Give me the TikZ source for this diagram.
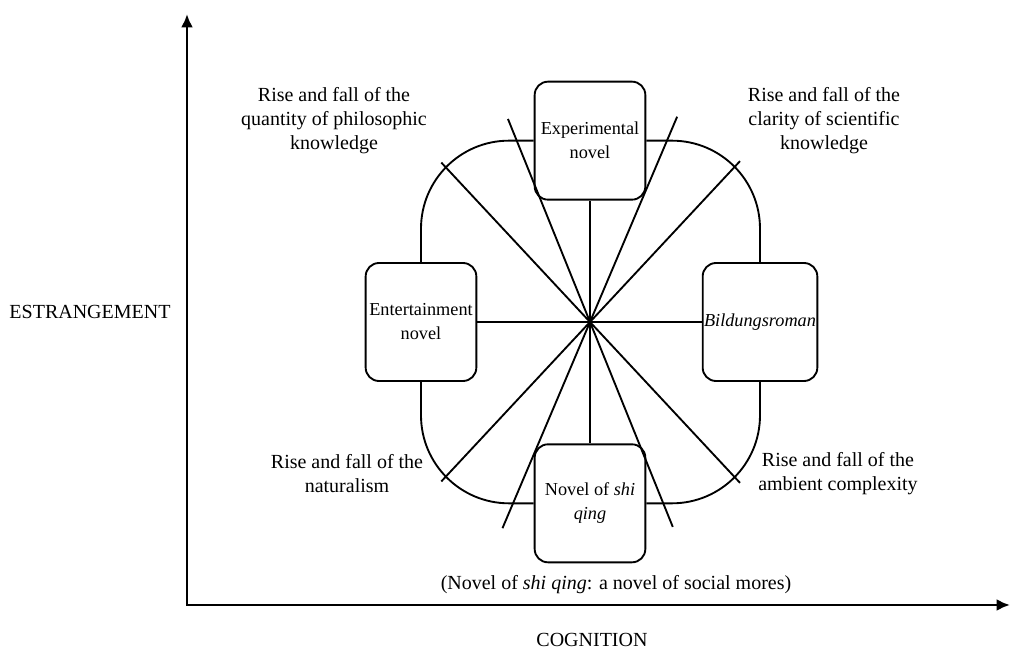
\documentclass[tikz,border=0pt]{standalone}
\usepackage{fontspec}
\setmainfont{Liberation Serif}
\usepackage{tikz}
\usetikzlibrary{shapes, arrows, arrows.meta, positioning}

\begin{document}
\begin{tikzpicture}[x=0.75pt, y=0.75pt, font=\fontsize{15}{18}\selectfont,
			genre/.style={draw, rectangle, rounded corners=10pt, line width=1.4pt, minimum width=83pt, minimum height=88.5pt, align=center, inner sep=1pt, font=\fontsize{13.7}{18}\selectfont},
			spoke/.style={line width=1.4pt},
			note/.style={align=center, inner sep=0pt},
			axis/.style={line width=2pt, {Latex[length=10pt, width=9pt]}-{Latex[length=10pt, width=9pt]}}
			]
			\useasboundingbox (0,0) rectangle (1011,650);
			\coordinate (h) at (590,328);
			
			\node [genre](b1) [above of=h, node distance=136pt] {Experimental\\novel};
			\node [genre](b2) [left of=h, node distance=126.75pt] {Entertainment\\novel};
			\node [genre](b3) [right of=h, node distance=127.5pt] {\textit{Bildungsroman}};
			\node [genre](b4) [below of=h, node distance=136pt] {Novel of \textit{shi}\\\textit{qing}};
			
			\node [note](l1) at (334,529) {Rise and fall of the\\quantity of philosophic\\knowledge};
			\node [note](l2) at (824,529) {Rise and fall of the\\clarity of scientific\\knowledge};
			\node [note](l3) at (347,176) {Rise and fall of the\\naturalism};
			\node [note](l4) at (838,176) {Rise and fall of the\\ambient complexity};
			\node [note](l5) at (616,65) {(Novel of \textit{shi qing}: a novel of social mores)};
			\node [note](e1) at (90,338) {ESTRANGEMENT};
			\node [note](c1) at (592,10) {COGNITION};
			
			% ends of the rays through the centre
			\coordinate (p1) at ([shift={(133:218)}]h);
			\coordinate (q1) at ([shift={(313:220)}]h);
			\coordinate (p2) at ([shift={(112:219)}]h);
			\coordinate (q2) at ([shift={(292:221)}]h);
			\coordinate (p3) at ([shift={(67:223)}]h);
			\coordinate (q3) at ([shift={(247:224)}]h);
			\coordinate (p4) at ([shift={(47:220)}]h);
			\coordinate (q4) at ([shift={(227:218)}]h);
			
			\draw[spoke] (p1) -- (q1);
			\draw[spoke] (p2) -- (q2);
			\draw[spoke] (p3) -- (q3);
			\draw[spoke] (p4) -- (q4);
			
			\draw[spoke] (h) -- (b1.south);
			\draw[spoke] (h) -- (b2.east);
			\draw[spoke] (h) -- (b3.west);
			\draw[spoke] (h) -- (b4.north);
			
			\draw[spoke, rounded corners=66pt] (b1.west) -| (b2.north);
			\draw[spoke, rounded corners=66pt] (b1.east) -| (b3.north);
			\draw[spoke, rounded corners=66pt] (b2.south) |- (b4.west);
			\draw[spoke, rounded corners=66pt] (b3.south) |- (b4.east);
			
			\coordinate (o) at (187,45);
			\coordinate (ya) at (187,636);
			\coordinate (xa) at (1010,45);
			\draw[axis] (ya) -- (o) -- (xa);
		\end{tikzpicture}
\end{document}
